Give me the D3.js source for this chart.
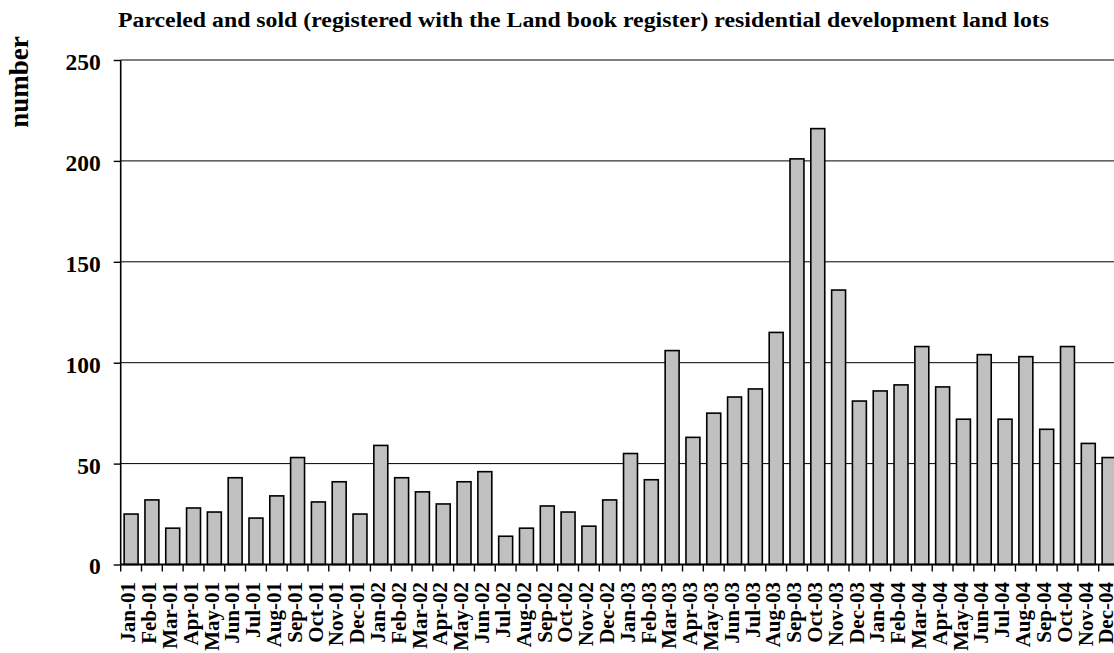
<!DOCTYPE html>
<html>
<head>
<meta charset="utf-8">
<script src="https://cdn.jsdelivr.net/npm/d3@7"></script>
<style>
  html, body { margin: 0; padding: 0; background: #fff; }
  svg { display: block; }
  text { font-family: "Liberation Serif", "Times New Roman", serif; font-weight: bold; fill: #000; }
</style>
</head>
<body>
<svg id="chart" width="1114" height="653"></svg>
<script>
// Monthly counts of parceled and sold residential development land lots, 2001–2004
const months = [
  "Jan-01","Feb-01","Mar-01","Apr-01","May-01","Jun-01","Jul-01","Aug-01","Sep-01","Oct-01","Nov-01","Dec-01",
  "Jan-02","Feb-02","Mar-02","Apr-02","May-02","Jun-02","Jul-02","Aug-02","Sep-02","Oct-02","Nov-02","Dec-02",
  "Jan-03","Feb-03","Mar-03","Apr-03","May-03","Jun-03","Jul-03","Aug-03","Sep-03","Oct-03","Nov-03","Dec-03",
  "Jan-04","Feb-04","Mar-04","Apr-04","May-04","Jun-04","Jul-04","Aug-04","Sep-04","Oct-04","Nov-04","Dec-04"
];
const lots = [
  25, 32, 18, 28, 26, 43, 23, 34, 53, 31, 41, 25,
  59, 43, 36, 30, 41, 46, 14, 18, 29, 26, 19, 32,
  55, 42, 106, 63, 75, 83, 87, 115, 201, 216, 136, 81,
  86, 89, 108, 88, 72, 104, 72, 103, 67, 108, 60, 53
];
const yTicks = [0, 50, 100, 150, 200, 250];
const titleText = "Parceled and sold (registered with the Land book register) residential development land lots";
const yTitle = "number";

const svg = d3.select("#chart");
const plotLeft = 120.7, plotRight = 1119.5, plotTop = 60, plotBottom = 564.5;

const x = d3.scaleBand().domain(months).range([plotLeft, plotRight])
  .paddingInner(0.33).paddingOuter(0.165);
const y = d3.scaleLinear().domain([0, 250]).range([plotBottom, plotTop]);

// horizontal gridlines
svg.append("g").selectAll("line").data(yTicks.filter(d => d > 0)).join("line")
  .attr("x1", plotLeft).attr("x2", plotRight)
  .attr("y1", d => y(d)).attr("y2", d => y(d))
  .attr("stroke", "#000").attr("stroke-width", 1);

// bars
svg.append("g").selectAll("rect").data(lots).join("rect")
  .attr("x", (d, i) => x(months[i]))
  .attr("width", x.bandwidth())
  .attr("y", d => y(d))
  .attr("height", d => y(0) - y(d))
  .attr("fill", "#c0c0c0")
  .attr("stroke", "#000")
  .attr("stroke-width", 1.6);

// y axis
const yAxis = d3.axisLeft(y).tickValues(yTicks).tickSize(7).tickPadding(13);
const gy = svg.append("g").attr("transform", `translate(${plotLeft},0)`).call(yAxis);
gy.select(".domain").attr("stroke", "#000").attr("stroke-width", 1.6).attr("d", `M0,${plotTop}V${plotBottom}`);
gy.selectAll(".tick line").attr("stroke", "#000").attr("stroke-width", 1.4);
gy.selectAll(".tick text")
  .attr("font-family", "Liberation Serif, serif")
  .attr("font-weight", "bold")
  .attr("font-size", 23.5)
  .attr("dy", "0.4em");

// x axis: ticks sit on the band boundaries, labels rotated
const step = x.step();
const gx = svg.append("g");
gx.append("line").attr("x1", plotLeft).attr("x2", plotRight).attr("y1", plotBottom).attr("y2", plotBottom)
  .attr("stroke", "#000").attr("stroke-width", 2.2);
gx.selectAll("line.tk").data(d3.range(months.length + 1)).join("line")
  .attr("class", "tk")
  .attr("x1", i => plotLeft + i * step).attr("x2", i => plotLeft + i * step)
  .attr("y1", plotBottom).attr("y2", plotBottom + 7)
  .attr("stroke", "#000").attr("stroke-width", 1.4);
gx.selectAll("text").data(months).join("text")
  .attr("transform", d => `translate(${x(d) + x.bandwidth() / 2 - 2.5},582) rotate(-90)`)
  .attr("text-anchor", "end")
  .attr("dy", "0.32em")
  .attr("font-size", 21)
  .text(d => d);

// titles
svg.append("text")
  .attr("x", 583.5).attr("y", 26.5)
  .attr("text-anchor", "middle")
  .attr("font-size", 20)
  .attr("textLength", 931)
  .attr("lengthAdjust", "spacingAndGlyphs")
  .text(titleText);

svg.append("text")
  .attr("transform", "translate(27.5,82) rotate(-90)")
  .attr("text-anchor", "middle")
  .attr("font-size", 27)
  .text(yTitle);
</script>
</body>
</html>
